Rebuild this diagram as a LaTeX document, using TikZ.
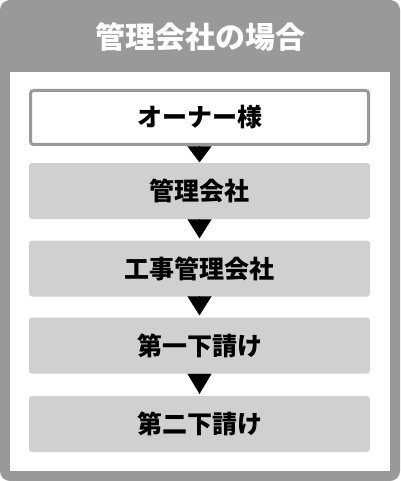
\documentclass[tikz,border=0pt]{standalone}
\usepackage{fontspec}
\setmainfont{Noto Sans CJK JP}
\usetikzlibrary{arrows.meta}
\definecolor{frameg}{HTML}{999999}
\definecolor{boxg}{HTML}{D0D0D0}
\tikzset{
  stepbox/.style={fill=boxg, rounded corners=3pt, minimum width=341pt, minimum height=56pt, inner sep=0pt, font=\fontsize{25}{25}\selectfont\bfseries, text=black},
  ownerbox/.style={fill=white, draw=frameg, line width=3pt, rounded corners=3pt, minimum width=338pt, minimum height=54pt, inner sep=0pt, font=\fontsize{25}{25}\selectfont\bfseries, text=black},
  flowarrow/.style={line width=0.1pt, -{Triangle[width=24pt,length=#1]}, black, shorten >=2pt},
  flowarrow/.default=19pt
}
\begin{document}
\begin{tikzpicture}[x=1pt,y=-1pt]
\useasboundingbox (0,0) rectangle (400,481);
\fill[frameg, rounded corners=10pt] (0,0) rectangle (400,481);
\fill[white] (10,72) rectangle (390,471);
\node[text=white, font=\fontsize{30}{30}\selectfont\bfseries] (title) at (200,37) {管理会社の場合};
\node[ownerbox] (b1) at (199.5,117.5) {オーナー様};
\node[stepbox] (b2) at (199.5,191) {管理会社};
\node[stepbox] (b3) at (199.5,268.5) {工事管理会社};
\node[stepbox] (b4) at (199.5,345.5) {第一下請け};
\node[stepbox] (b5) at (199.5,424) {第二下請け};
\draw[flowarrow=16pt, shorten >=0.5pt] (b1.south) -- (b2.north);
\draw[flowarrow] (b2.south) -- (b3.north);
\draw[flowarrow] (b3.south) -- (b4.north);
\draw[flowarrow=20pt] (b4.south) -- (b5.north);
\end{tikzpicture}
\end{document}
